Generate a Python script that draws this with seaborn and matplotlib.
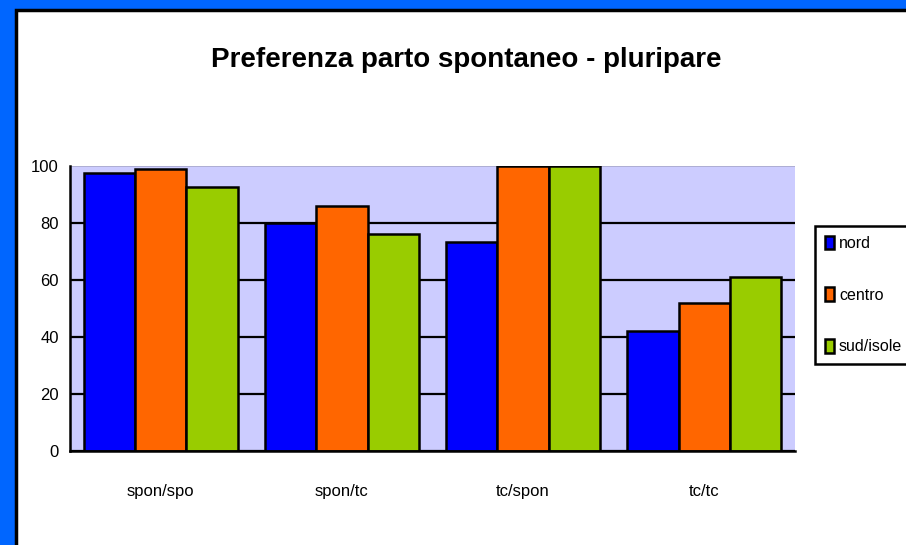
import numpy as np
import pandas as pd
import matplotlib
matplotlib.use("Agg")
import matplotlib.pyplot as plt
from matplotlib.patches import Rectangle
import seaborn as sns

# data
categories = ["spon/spo", "spon/tc", "tc/spon", "tc/tc"]
nord = [97.5, 80, 73.5, 42]
centro = [99, 86, 100, 52]
sud_isole = [92.5, 76, 100, 61]
series = ["nord", "centro", "sud/isole"]
yticks = [0, 20, 40, 60, 80, 100]

df = pd.DataFrame({
    "cat": categories * 3,
    "val": nord + centro + sud_isole,
    "zona": [s for s in series for _ in categories],
})

sns.set_style("white")
plt.rcParams["font.family"] = ["Liberation Sans Narrow", "Liberation Sans", "DejaVu Sans"]
plt.rcParams["text.color"] = "black"
plt.rcParams["xtick.color"] = "black"
plt.rcParams["ytick.color"] = "black"

fig = plt.figure(figsize=(9.06, 5.45), dpi=100, facecolor="#0066ff")
# white panel with black frame
fig.patches.append(Rectangle((16 / 906, -0.05), 1.0, (545 - 10) / 545 + 0.05,
                             transform=fig.transFigure, facecolor="white",
                             edgecolor="black", linewidth=2.5, zorder=-1))

ax = fig.add_axes([70 / 906, 94 / 545, 725 / 906, 285 / 545])
ax.set_facecolor("#ccccff")

palette = {"nord": "#0000ff", "centro": "#ff6600", "sud/isole": "#99cc00"}
sns.barplot(data=df, x="cat", y="val", hue="zona", palette=palette,
            width=0.85, gap=0, edgecolor="black", linewidth=1.8,
            saturation=1, ax=ax)

ax.set_ylim(0, 100)
ax.set_xlim(-0.5, 3.5)
ax.set_yticks(yticks)
ax.set_axisbelow(True)
ax.yaxis.grid(True, color="black", linewidth=1.6)
ax.get_ygridlines()[-1].set_color("#a8a8cc")
ax.get_ygridlines()[-1].set_linewidth(1.2)

for s in ["top", "right"]:
    ax.spines[s].set_visible(False)
for s in ["left", "bottom"]:
    ax.spines[s].set_linewidth(1.8)
    ax.spines[s].set_color("black")

ax.tick_params(axis="y", direction="inout", length=8, width=1.8, labelsize=12,
               pad=4, labelcolor="black")
ax.set_xticks(np.arange(-0.5, 4, 1), minor=True)
ax.tick_params(axis="x", which="minor", direction="out", length=5, width=1.8)
ax.tick_params(axis="x", which="major", length=0, labelsize=12, pad=24,
               labelcolor="black")
ax.set_xlabel("")
ax.set_ylabel("")

fig.text(0.515, 0.89, "Preferenza parto spontaneo - pluripare", ha="center",
         va="center", fontsize=20, fontweight="bold", color="black")

leg = ax.legend(loc="center left", bbox_to_anchor=(815 / 906, 250 / 545),
                bbox_transform=fig.transFigure, frameon=True, fancybox=False,
                framealpha=1, fontsize=11.5, labelspacing=2.3,
                handlelength=0.6, handleheight=0.9, handletextpad=0.3,
                borderpad=0.6, borderaxespad=0)
leg.get_frame().set_edgecolor("black")
leg.get_frame().set_linewidth(1.8)
for t in leg.get_texts():
    t.set_color("black")

fig.savefig("out.png", dpi=100, facecolor=fig.get_facecolor())
